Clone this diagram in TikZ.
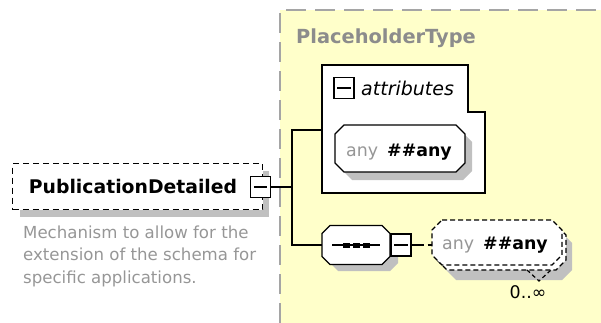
\documentclass[tikz,border=0pt]{standalone}
\usepackage{fontspec}
\setmainfont{DejaVu Sans}
\usetikzlibrary{calc}
\definecolor{ybg}{RGB}{255,255,202}
\definecolor{ybord}{RGB}{165,165,165}
\definecolor{shd}{RGB}{192,192,192}
\definecolor{gtxt}{RGB}{150,150,150}
\definecolor{ptxt}{RGB}{140,140,140}
\newcommand\octo[5]{(#1+#5,#2) -- (#3-#5,#2) -- (#3,#2+#5) -- (#3,#4-#5) -- (#3-#5,#4) -- (#1+#5,#4) -- (#1,#4-#5) -- (#1,#2+#5) -- cycle}
\tikzset{
  bline/.style={line width=1.2pt, black},
  minusbox/.style={draw, fill=white, line width=1.2pt, minimum width=20pt, minimum height=21pt, inner sep=0pt},
  anchorbox/.style={inner sep=0pt, outer sep=0pt},
  bigbold/.style={font=\bfseries\fontsize{18.8}{20}\selectfont},
  desc/.style={font=\fontsize{16.6}{20}\selectfont, text=gtxt, anchor=base west, inner sep=0pt},
  anytxt/.style={font=\fontsize{17.4}{20}\selectfont, anchor=base west, inner sep=0pt},
  shadowfill/.style={fill=shd},
}
\begin{document}
\begin{tikzpicture}[x=1pt,y=-1pt]
\useasboundingbox (0,0) rectangle (601,323);
% yellow type area
\fill[ybg] (280,10) rectangle (601,323);
\draw[ybord, line width=1.5pt, dash pattern=on 20pt off 9pt] (280,323) -- (280,10) -- (601,10);
\node[font=\bfseries\fontsize{19.4}{20}\selectfont, text=ptxt, anchor=base west, inner sep=0pt] (ptype) at (296,44) {PlaceholderType};

% PublicationDetailed element
\fill[shadowfill] (20,171) rectangle (269,217);
\node[draw, fill=white, line width=1.2pt, dash pattern=on 6pt off 4pt, minimum width=250pt, minimum height=46pt, anchor=north west, inner sep=0pt] (pd) at (12,163) {};
\node[bigbold, anchor=base, inner sep=0pt] (pdt) at (133,193) {PublicationDetailed};
\node[minusbox] (pdm) at (260.5,187) {};
\draw[bline] ([xshift=4pt]pdm.west) -- ([xshift=-4pt]pdm.east);
\node[desc] (d1) at (23,238) {Mechanism to allow for the};
\node[desc] (d2) at (23,260.5) {extension of the schema for};
\node[desc] (d3) at (23,283) {specific applications.};

% attributes group
\draw[bline, fill=white] (322,65) -- (468,65) -- (468,112) -- (485,112) -- (485,193) -- (322,193) -- cycle;
\node[anchorbox, minimum width=163pt, minimum height=128pt, anchor=north west] (attr) at (322,65) {};
\node[minusbox] (am) at (344,88) {};
\draw[bline] ([xshift=4pt]am.west) -- ([xshift=-4pt]am.east);
\node[font=\itshape\fontsize{19}{20}\selectfont, anchor=base west, inner sep=0pt] (attrt) at (361,96) {attributes};

% any attribute
\fill[shadowfill] \octo{343}{133}{472}{180}{9};
\draw[bline, fill=white] \octo{335}{125}{465}{172}{9};
\node[anchorbox, minimum width=130pt, minimum height=47pt] (a1) at (400,148.5) {};
\node[anytxt] (a1t) at (346,157) {\textcolor{gtxt}{any}\hspace{9pt}\textbf{\#\#any}};

% sequence compositor
\fill[shadowfill] \octo{330}{233}{398}{271}{8};
\draw[bline, fill=white] \octo{322}{225.5}{390}{264.5}{8};
\node[anchorbox, minimum width=68pt, minimum height=39pt] (seq) at (356,245) {};
\draw[bline] (332,245) -- (380,245);
\fill (343,242.5) rectangle (350,247.5);
\fill (353,242.5) rectangle (360,247.5);
\fill (363,242.5) rectangle (370,247.5);
\node[minusbox, minimum height=22pt] (sm) at (401,245) {};
\draw[bline] ([xshift=4pt]sm.west) -- ([xshift=-4pt]sm.east);

% any element (repeated)
\fill[shadowfill] \octo{446}{233}{572}{280}{10};
\draw[line width=1.2pt, dash pattern=on 5pt off 3pt, fill=white] \octo{437}{225}{566}{270}{10};
\draw[line width=1.2pt, dash pattern=on 5pt off 3pt, fill=white] \octo{432}{220}{562}{265}{10};
\node[anchorbox, minimum width=130pt, minimum height=45pt] (a2) at (497,242.5) {};
\node[anytxt] (a2t) at (442,249) {\textcolor{gtxt}{any}\hspace{9pt}\textbf{\#\#any}};
\draw[line width=1.2pt, dash pattern=on 4pt off 3pt] (527,270) -- (539,281) -- (551,270);
\node[font=\fontsize{17.4}{20}\selectfont, anchor=base, inner sep=0pt] (mult) at (528,298) {0..∞};

% connectors
\coordinate (j) at (292,187);
\coordinate (ja) at (292,130);
\coordinate (js) at (292,245);
\draw[bline] (pdm.east) -- (j);
\draw[bline] (attr.west |- ja) -- (ja) -- (js) -- (seq.west);
\draw[bline] (sm.east) -- ++(6pt,0);
\draw[bline, dash pattern=on 6pt off 4pt] ([xshift=6pt]sm.east) -- (sm.east -| a2.west);
\end{tikzpicture}
\end{document}
